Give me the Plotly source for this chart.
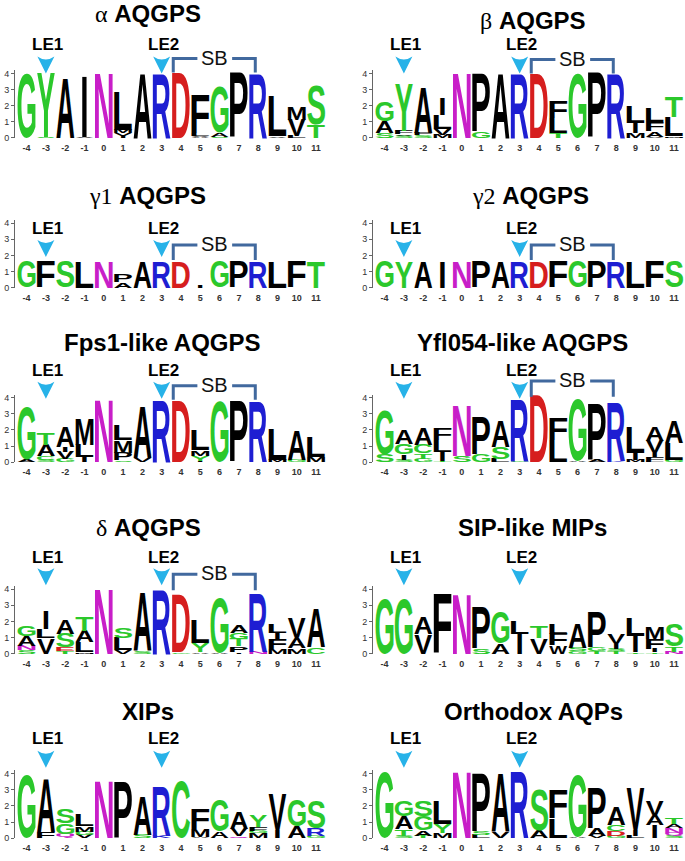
import plotly.graph_objects as go

# ---------------- data ----------------
POSITIONS = list(range(-4, 12))
TICK_LABELS = [str(p) for p in POSITIONS]
Y_TICKS = [0, 1, 2, 3, 4]

SERIF = '<span style="font-family:Liberation Serif;font-weight:normal">{}</span> '
TITLES = [
    SERIF.format('α') + 'AQGPS',
    SERIF.format('β') + 'AQGPS',
    SERIF.format('γ1') + 'AQGPS',
    SERIF.format('γ2') + 'AQGPS',
    'Fps1-like AQGPS',
    'Yfl054-like AQGPS',
    SERIF.format('δ') + 'AQGPS',
    'SIP-like MIPs',
    'XIPs',
    'Orthodox AQPs',
]

# stacks per position, bottom -> top: (residue, bits)
ALPHA = [
    [('G', 4.0)], [('S', 0.05), ('Y', 3.95)], [('A', 3.7)], [('V', 0.05), ('I', 3.8)],
    [('N', 4.0)], [('I', 0.12), ('V', 0.18), ('M', 0.2), ('L', 2.35)], [('A', 4.0)], [('R', 4.0)],
    [('D', 4.05)], [('A', 0.06), ('V', 0.08), ('L', 0.12), ('F', 2.4)], [('S', 0.08), ('A', 0.25), ('G', 2.85)], [('P', 4.0)],
    [('R', 4.0)], [('V', 0.1), ('L', 2.45)], [('L', 0.12), ('V', 1.0), ('M', 0.8)], [('T', 0.8), ('S', 2.45)],
]
BETA = [
    [('S', 0.3), ('A', 0.7), ('G', 1.25)], [('S', 0.12), ('V', 0.1), ('F', 0.2), ('Y', 2.9)],
    [('S', 0.15), ('F', 0.15), ('A', 2.8)], [('M', 0.2), ('V', 0.35), ('L', 0.85), ('I', 1.05)],
    [('N', 4.0)], [('G', 0.4), ('P', 3.6)], [('A', 4.0)], [('R', 4.0)],
    [('D', 4.0)], [('T', 0.3), ('L', 0.95), ('F', 1.0)], [('G', 4.0)], [('P', 4.0)],
    [('R', 4.0)], [('M', 0.3), ('I', 0.6), ('L', 1.0)], [('V', 0.08), ('A', 0.35), ('F', 0.55), ('L', 0.85)],
    [('M', 0.1), ('L', 1.2), ('T', 1.25)],
]
GAMMA1 = [
    [('G', 1.6)], [('F', 1.6)], [('S', 1.6)], [('L', 1.6)],
    [('N', 1.6)], [('A', 0.35), ('P', 0.5)], [('A', 1.6)], [('R', 1.6)],
    [('D', 1.6)], [('I', 0.15)], [('G', 1.6)], [('P', 1.6)],
    [('R', 1.6)], [('L', 1.6)], [('F', 1.6)], [('T', 1.6)],
]
GAMMA2 = [
    [('G', 1.6)], [('Y', 1.6)], [('A', 1.6)], [('I', 1.6)],
    [('N', 1.6)], [('P', 1.6)], [('A', 1.6)], [('R', 1.6)],
    [('D', 1.6)], [('F', 1.6)], [('G', 1.6)], [('P', 1.6)],
    [('R', 1.6)], [('L', 1.6)], [('F', 1.6)], [('S', 1.6)],
]
FPS1 = [
    [('A', 0.15), ('G', 3.3)], [('S', 0.12), ('C', 0.25), ('A', 0.7), ('T', 0.7)],
    [('G', 0.2), ('V', 0.45), ('I', 0.3), ('A', 1.3)], [('I', 0.35), ('L', 0.75), ('M', 1.6)],
    [('N', 3.85)], [('S', 0.1), ('P', 0.5), ('M', 0.75), ('L', 0.95)], [('V', 0.25), ('A', 3.25)], [('R', 3.8)],
    [('D', 3.8)], [('I', 0.1), ('Y', 0.3), ('M', 0.35), ('L', 1.3)], [('G', 3.75)], [('P', 3.75)],
    [('R', 3.75)], [('M', 0.15), ('L', 1.9)], [('G', 0.15), ('A', 1.85)], [('M', 0.35), ('L', 1.25)],
]
YFL054 = [
    [('S', 0.45), ('G', 2.75)], [('S', 0.15), ('I', 0.35), ('G', 0.65), ('A', 0.9)],
    [('G', 0.2), ('T', 0.35), ('C', 0.55), ('A', 1.0)], [('T', 0.1), ('I', 0.55), ('L', 0.7), ('F', 0.75)],
    [('S', 0.4), ('N', 3.1)], [('G', 0.5), ('P', 2.3)], [('L', 0.2), ('S', 0.75), ('A', 1.6)], [('G', 0.1), ('R', 3.8)],
    [('D', 4.1)], [('L', 1.35), ('F', 1.35)], [('A', 0.08), ('G', 3.85)], [('A', 0.12), ('P', 3.5)],
    [('K', 0.08), ('R', 3.55)], [('M', 0.15), ('I', 0.45), ('L', 1.6)],
    [('L', 0.1), ('F', 0.25), ('I', 0.2), ('V', 0.75), ('A', 0.85)], [('G', 0.15), ('L', 1.05), ('A', 1.4)],
]
DELTA = [
    [('S', 0.2), ('N', 0.3), ('A', 0.6), ('G', 0.65)], [('V', 0.95), ('L', 0.55), ('I', 1.15)],
    [('T', 0.15), ('E', 0.25), ('S', 0.85), ('A', 0.85)], [('M', 0.1), ('L', 0.6), ('A', 0.7), ('T', 0.9)],
    [('N', 4.0)], [('V', 0.2), ('L', 0.75), ('S', 0.65)], [('S', 0.15), ('A', 3.6)], [('R', 4.0)],
    [('G', 0.1), ('D', 3.6)], [('A', 0.1), ('Y', 0.55), ('L', 1.4)], [('A', 0.08), ('G', 3.4)],
    [('I', 0.1), ('P', 0.35), ('T', 0.45), ('G', 0.4), ('A', 0.5)],
    [('N', 0.12), ('R', 3.55)], [('M', 0.3), ('F', 0.6), ('I', 0.4), ('L', 0.55)],
    [('M', 0.35), ('A', 0.6), ('V', 1.3)], [('C', 0.4), ('A', 2.4)],
]
SIP = [
    [('G', 3.4)], [('G', 3.4)], [('V', 1.2), ('A', 1.05)], [('F', 3.7)],
    [('N', 3.7)], [('S', 0.3), ('P', 2.6)], [('A', 0.65), ('G', 1.95)], [('I', 1.25), ('L', 0.75)],
    [('V', 0.95), ('T', 0.75)], [('W', 0.5), ('F', 0.7), ('L', 0.6)], [('G', 0.15), ('S', 0.2), ('A', 1.5)],
    [('T', 0.15), ('G', 0.25), ('P', 2.15)],
    [('T', 0.15), ('S', 0.15), ('I', 0.3), ('V', 0.65)], [('T', 0.1), ('I', 1.0), ('L', 1.1)],
    [('T', 0.1), ('I', 0.2), ('F', 0.6), ('M', 0.7)], [('N', 0.12), ('T', 0.35), ('S', 1.4)],
]
XIP = [
    [('G', 3.9)], [('F', 0.4), ('A', 3.3)], [('Q', 0.25), ('G', 0.65), ('S', 0.9)],
    [('V', 0.2), ('G', 0.2), ('M', 0.35), ('L', 0.7)],
    [('N', 3.5)], [('P', 3.5)], [('S', 0.2), ('A', 2.45)], [('K', 0.15), ('R', 3.05)],
    [('C', 3.5)], [('A', 0.1), ('M', 0.45), ('F', 1.3)], [('A', 0.4), ('G', 1.95)], [('Q', 0.12), ('V', 0.45), ('A', 1.05)],
    [('M', 0.3), ('G', 0.15), ('F', 0.25), ('Y', 0.7)], [('I', 0.5), ('V', 2.25)], [('A', 0.75), ('G', 1.6)],
    [('G', 0.15), ('R', 0.45), ('S', 1.7)],
]
ORTHO = [
    [('G', 4.1)], [('S', 0.15), ('T', 0.4), ('A', 0.8), ('G', 1.0)],
    [('T', 0.15), ('A', 0.35), ('G', 0.85), ('S', 1.0)], [('M', 0.3), ('Y', 0.55), ('L', 1.45)],
    [('N', 4.1)], [('L', 0.2), ('S', 0.2), ('P', 3.6)], [('V', 0.4), ('A', 3.6)], [('R', 4.1)],
    [('A', 0.5), ('S', 2.55)], [('L', 1.2), ('F', 1.75)], [('A', 0.1), ('G', 3.85)], [('V', 0.12), ('A', 0.5), ('P', 2.5)],
    [('G', 0.12), ('D', 0.3), ('C', 0.4), ('A', 1.1)], [('L', 0.12), ('I', 0.4), ('V', 2.6)],
    [('I', 0.8), ('A', 0.6), ('V', 0.95)], [('S', 0.15), ('Q', 0.15), ('N', 0.3), ('A', 0.25), ('T', 0.4)],
]
PANELS = [ALPHA, BETA, GAMMA1, GAMMA2, FPS1, YFL054, DELTA, SIP, XIP, ORTHO]
HAS_SB = [True, True, True, True, True, True, True, False, False, False]
LE_POS = [-3, 3]
SB_SPAN = [3.6, 7.85]

# ---------------- styling ----------------
GREEN, PURPLE, BLUE, RED, BLACK = '#2bc82b', '#c81ec8', '#1e1ed2', '#d61e1e', '#000000'
COLORS = {}
for a in 'GSTYC':
    COLORS[a] = GREEN
for a in 'NQ':
    COLORS[a] = PURPLE
for a in 'KRH':
    COLORS[a] = BLUE
for a in 'DE':
    COLORS[a] = RED

W, H = 685, 861
ROW_BASE = [137, 288, 464, 657, 843]
COL_AXIS = [15, 373]
COL_PX = 19.3
BIT_PX = 16.25
X_RANGE = [-4.6, 11.55]
Y_RANGE = [0, 4.2]
TITLE_XY = [(148, 12), (533, 19), (147, 195), (530, 195), (162, 343), (522, 343),
            (148, 530), (532, 530), (148, 715), (533, 715)]
LE_Y = [43, 228, 372, 560, 743]
ARROW_TIP = [72, 257, 400, 588, 772]
SB_LINE = [57, 58, 245, 245, 387, 382, 577]
SB_BOTTOM = [71, 72, 260, 260, 401, 398, 593]
ARROW_COLOR = '#27b2e8'
SB_COLOR = '#41699e'


def px(x):
    return x / W


def py(y):
    return 1 - y / H


fig = go.Figure()
layout = dict(width=W, height=H, margin=dict(l=0, r=0, t=0, b=0),
              paper_bgcolor='white', plot_bgcolor='white', showlegend=False)
annotations, shapes = [], []

for k, stacks in enumerate(PANELS):
    r, c = divmod(k, 2)
    n = k + 1
    sfx = '' if n == 1 else str(n)
    xr, yr = 'x' + sfx, 'y' + sfx
    x0 = COL_AXIS[c]
    x1 = x0 + (X_RANGE[1] - X_RANGE[0]) * COL_PX
    yb = ROW_BASE[r]
    yt = yb - (Y_RANGE[1] - Y_RANGE[0]) * BIT_PX
    layout['xaxis' + sfx] = dict(domain=[px(x0), min(1, px(x1))], range=X_RANGE, anchor=yr,
                                 showgrid=False, zeroline=False, showline=False, ticks='',
                                 tickvals=POSITIONS, ticktext=TICK_LABELS, ticklabelstandoff=3,
                                 tickfont=dict(family='Liberation Sans', size=9, color='#333', weight='bold'),
                                 fixedrange=True)
    layout['yaxis' + sfx] = dict(domain=[py(yb), py(yt)], range=Y_RANGE, anchor=xr,
                                 showgrid=False, zeroline=False, showline=True, linecolor='#666', linewidth=1,
                                 ticks='outside', ticklen=3, tickcolor='#666', tickvals=Y_TICKS,
                                 tickfont=dict(family='Liberation Sans', size=9, color='#333'),
                                 fixedrange=True)

    lx, ly, lt, lh, lc = [], [], [], [], []
    for pos, stack in zip(POSITIONS, stacks):
        base = 0.0
        for letter, h in stack:
            lx.append(pos)
            ly.append(round(base, 4))
            lt.append(letter)
            lh.append(h)
            lc.append(COLORS.get(letter, BLACK))
            base += h
    fig.add_trace(go.Scatter(x=lx, y=ly, text=lt, customdata=lh, mode='text',
                             textposition='top center', meta='logo',
                             textfont=dict(family='Liberation Sans', size=14, color=lc, weight='bold'),
                             xaxis=xr, yaxis=yr, hoverinfo='skip', showlegend=False, cliponaxis=False))

    tx, ty = TITLE_XY[k]
    annotations.append(dict(text=TITLES[k], x=px(tx), y=py(ty), xref='paper', yref='paper',
                            xanchor='center', yanchor='middle', showarrow=False,
                            font=dict(family='Liberation Sans', size=24, color='#000', weight='bold')))
    for j, lp in enumerate(LE_POS):
        annotations.append(dict(text='LE%d' % (j + 1), x=lp + 0.1, y=py(LE_Y[r]), xref=xr, yref='paper',
                                xanchor='center', yanchor='middle', showarrow=False,
                                font=dict(family='Liberation Sans', size=17, color='#000', weight='bold')))
        shapes.append(dict(type='path', xref=xr, yref='paper', xsizemode='pixel', ysizemode='pixel',
                           xanchor=lp, yanchor=py(ARROW_TIP[r]),
                           path='M0,0 L-8.5,17 Q0,11 8.5,17 Z',
                           fillcolor=ARROW_COLOR, line=dict(width=0)))
    if HAS_SB[k]:
        ytop = py(SB_LINE[k])
        ybot = py(SB_BOTTOM[k])
        a, b = SB_SPAN
        path = ('M%.3f,%.5f L%.3f,%.5f L%.3f,%.5f M%.3f,%.5f L%.3f,%.5f L%.3f,%.5f' %
                (a, ybot, a, ytop, 4.85, ytop, 6.65, ytop, b, ytop, b, ybot))
        shapes.append(dict(type='path', xref=xr, yref='paper', path=path,
                           line=dict(color=SB_COLOR, width=3)))
        annotations.append(dict(text='SB', x=5.75, y=py(SB_LINE[k] - 1), xref=xr, yref='paper',
                                xanchor='center', yanchor='middle', showarrow=False,
                                font=dict(family='Liberation Sans', size=20, color='#111')))

layout['annotations'] = annotations
layout['shapes'] = shapes
fig.update_layout(**layout)

POST = r"""
document.documentElement.style.margin = '0';
document.documentElement.style.padding = '0';
document.body.style.margin = '0';
document.body.style.padding = '0';
document.body.style.overflow = 'hidden';
var gd = document.getElementById('{plot_id}');
function logoFix(){
  var fl = gd._fullLayout;
  var ctx = document.createElement('canvas').getContext('2d');
  var FS = 100;
  ctx.font = 'bold ' + FS + 'px "Liberation Sans"';
  var cache = {};
  function ink(ch){
    if(!cache[ch]){
      var m = ctx.measureText(ch);
      cache[ch] = {l: m.actualBoundingBoxLeft, r: m.actualBoundingBoxRight,
                   a: m.actualBoundingBoxAscent, d: m.actualBoundingBoxDescent};
    }
    return cache[ch];
  }
  var refN = ink('N');
  var nW = refN.l + refN.r;
  gd.querySelectorAll('.scatterlayer .trace').forEach(function(tg){
    var cd = tg.__data__;
    if(!cd || !cd[0] || !cd[0].trace) return;
    var tr = cd[0].trace;
    if(tr.meta !== 'logo') return;
    var xa = fl['xaxis' + tr.xaxis.slice(1)];
    var ya = fl['yaxis' + tr.yaxis.slice(1)];
    var colW = Math.abs(xa.c2p(1) - xa.c2p(0)) * 0.93;
    var texts = tg.querySelectorAll('.textpoint text');
    texts.forEach(function(el, j){
      var ch = tr.text[j], h = tr.customdata[j];
      var g = ink(ch);
      var iw = g.l + g.r, ih = g.a + g.d;
      var xc = xa.c2p(tr.x[j]), yb = ya.c2p(tr.y[j]), yt = ya.c2p(tr.y[j] + h);
      var sx = (ch === 'I') ? colW / nW : colW / iw;
      var sy = (yb - yt) / ih;
      var tx = xc - sx * (g.r - g.l) / 2;
      var ty = yb - sy * g.d;
      if(el.parentNode) el.parentNode.removeAttribute('transform');
      el.setAttribute('x', 0); el.setAttribute('y', 0);
      el.removeAttribute('dy');
      el.setAttribute('text-anchor', 'start');
      el.style.fontSize = FS + 'px';
      el.querySelectorAll('tspan').forEach(function(t){
        t.setAttribute('x', 0); t.setAttribute('y', 0); t.removeAttribute('dy');
      });
      el.setAttribute('transform', 'translate(' + tx + ',' + ty + ') scale(' + sx + ',' + sy + ')');
    });
  });
}
logoFix();
gd.on('plotly_afterplot', logoFix);
"""

fig.write_html("out.html", config={'responsive': False, 'displayModeBar': False}, post_script=POST)
